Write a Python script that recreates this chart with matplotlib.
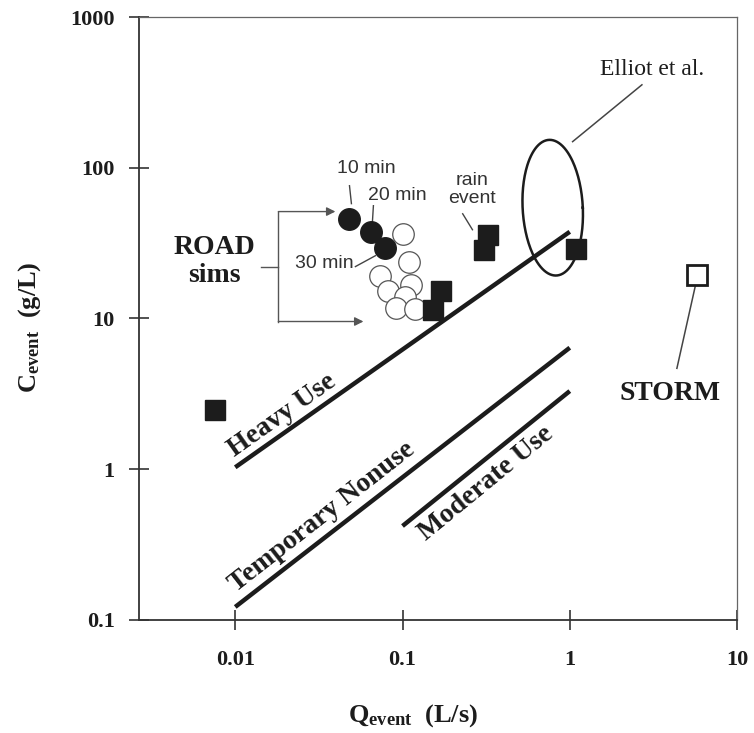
import numpy as np
import matplotlib
matplotlib.use("Agg")
import matplotlib.pyplot as plt
from matplotlib.ticker import FixedLocator, FixedFormatter, NullLocator

plt.rcParams['font.family'] = ['Liberation Serif', 'DejaVu Serif']
plt.rcParams['mathtext.fontset'] = 'custom'
plt.rcParams['mathtext.rm'] = 'Liberation Serif'
plt.rcParams['mathtext.bf'] = 'Liberation Serif:bold'

# field data (filled squares)
field_q = [0.0076, 0.153, 0.171, 0.305, 0.323, 1.09]
field_c = [2.46, 11.3, 15.3, 28.6, 36.0, 29.1]

# STORM model (open square)
storm_q = [5.8]
storm_c = [19.3]

# ROAD sims, first three (10, 20, 30 min) filled
road_q_fill = [0.048, 0.065, 0.079]
road_c_fill = [45.9, 37.2, 29.5]
road_q_open = [0.100, 0.110, 0.073, 0.082, 0.112, 0.103, 0.091, 0.118]
road_c_open = [36.6, 23.8, 19.0, 15.3, 16.8, 13.8, 11.8, 11.6]

# use-level lines (Q range, C range)
heavy_q = [0.01, 1.0]
heavy_c = [1.03, 37.6]
temp_q = [0.01, 1.0]
temp_c = [0.122, 6.4]
moder_q = [0.1, 1.0]
moder_c = [0.42, 3.3]

xticks = [0.01, 0.1, 1, 10]
xtick_labels = ['0.01', '0.1', '1', '10']
yticks = [0.1, 1, 10, 100, 1000]
ytick_labels = ['0.1', '1', '10', '100', '1000']

ink = '#1c1c1c'

fig = plt.figure(figsize=(7.54, 7.33), dpi=100)
ax = fig.add_axes([0.1844, 0.1542, 0.7931, 0.8226])
ax.set_xscale('log')
ax.set_yscale('log')
ax.set_xlim(0.00266, 10)
ax.set_ylim(0.1, 1000)

# guideline lines
for q, c in [(heavy_q, heavy_c), (temp_q, temp_c), (moder_q, moder_c)]:
    ax.plot(q, c, color=ink, lw=3.2, solid_capstyle='butt', zorder=3)

ax.text(0.0191, 2.28, 'Heavy Use', rotation=35.3, rotation_mode='anchor',
        ha='center', va='center', fontsize=20, fontweight='bold', color=ink)
ax.text(0.0332, 0.481, 'Temporary Nonuse', rotation=38, rotation_mode='anchor',
        ha='center', va='center', fontsize=20, fontweight='bold', color=ink)
ax.text(0.318, 0.807, 'Moderate Use', rotation=39.3, rotation_mode='anchor',
        ha='center', va='center', fontsize=20, fontweight='bold', color=ink)

# Elliot et al. ellipse (drawn in log space)
t = np.linspace(0, 2 * np.pi, 200)
ex = -0.102 + 0.18 * np.cos(t) - 0.018 * np.sin(t)
ey = 1.735 + 0.45 * np.sin(t)
ax.plot(10 ** ex, 10 ** ey, color=ink, lw=1.8, zorder=4)
ax.plot([1.04, 2.70], [149, 355], color='#444444', lw=1.1)
ax.text(3.10, 446, 'Elliot et al.', ha='center', va='center', fontsize=17, color=ink)

# markers
ax.plot(road_q_open, road_c_open, 'o', ms=15.5, mfc='white', mec='#555555',
        mew=0.9, zorder=5)
ax.plot(road_q_fill, road_c_fill, 'o', ms=15.5, mfc=ink, mec=ink, zorder=6)
ax.plot(field_q, field_c, 's', ms=15, mfc=ink, mec=ink, zorder=6)
ax.plot(storm_q, storm_c, 's', ms=15, mfc='white', mec=ink, mew=2, zorder=6)

# small annotations
sans = ['Liberation Sans', 'DejaVu Sans']
ax.text(0.0609, 98.5, '10 min', family=sans, fontsize=14, ha='center', va='center', color='#333333')
ax.plot([0.0482, 0.0495], [76.0, 57.8], color='#444444', lw=1)
ax.text(0.0933, 65.3, '20 min', family=sans, fontsize=14, ha='center', va='center', color='#333333')
ax.plot([0.0670, 0.0661], [56.0, 43.9], color='#444444', lw=1)
ax.text(0.0341, 23.1, '30 min', family=sans, fontsize=14, ha='center', va='center', color='#333333')
ax.plot([0.0523, 0.0689], [22.1, 26.1], color='#444444', lw=1)
ax.text(0.259, 71.5, 'rain\nevent', family=sans, fontsize=14, ha='center', va='center',
        linespacing=1.1, color='#333333')
ax.plot([0.229, 0.262], [49.5, 38.8], color='#444444', lw=1)

# STORM
ax.text(3.97, 3.18, 'STORM', ha='center', va='center', fontsize=20, fontweight='bold', color=ink)
ax.plot([5.76, 4.37], [18.4, 4.67], color='#444444', lw=1.1)

# ROAD sims bracket
ax.text(0.00748, 23.8, 'ROAD\nsims', ha='center', va='center', fontsize=20,
        fontweight='bold', linespacing=1.15, color=ink)
ax.plot([0.0143, 0.0181], [21.8, 21.8], color='#555555', lw=1)
ax.plot([0.0181, 0.0181], [51.2, 9.55], color='#555555', lw=1)
arrow = dict(arrowstyle='-|>', lw=1, color='#555555', mutation_scale=13, shrinkA=0, shrinkB=0)
ax.annotate('', xy=(0.0397, 51.2), xytext=(0.0181, 51.2), arrowprops=arrow)
ax.annotate('', xy=(0.0584, 9.55), xytext=(0.0181, 9.55), arrowprops=arrow)

# axes styling
ax.xaxis.set_major_locator(FixedLocator(xticks))
ax.xaxis.set_major_formatter(FixedFormatter(xtick_labels))
ax.yaxis.set_major_locator(FixedLocator(yticks))
ax.yaxis.set_major_formatter(FixedFormatter(ytick_labels))
ax.xaxis.set_minor_locator(NullLocator())
ax.yaxis.set_minor_locator(NullLocator())
ax.tick_params(direction='inout', length=15, width=1.2, color='#333333',
               labelsize=16, labelcolor=ink)
ax.tick_params(axis='x', pad=14)
ax.tick_params(axis='y', pad=10)
for lab in ax.get_xticklabels() + ax.get_yticklabels():
    lab.set_fontweight('bold')
for side in ['left', 'bottom']:
    ax.spines[side].set_linewidth(1.3)
    ax.spines[side].set_color('#333333')
for side in ['top', 'right']:
    ax.spines[side].set_linewidth(0.9)
    ax.spines[side].set_color('#666666')

fig.text(0.548, 0.0232, r'$\mathbf{Q_{event}}$  (L/s)', ha='center', va='center',
         fontsize=19, fontweight='bold', color=ink)
fig.text(0.0398, 0.554, r'$\mathbf{C_{event}}$  (g/L)', ha='center', va='center',
         rotation=90, fontsize=19, fontweight='bold', color=ink)

fig.savefig('out.png', dpi=100, facecolor='white')
